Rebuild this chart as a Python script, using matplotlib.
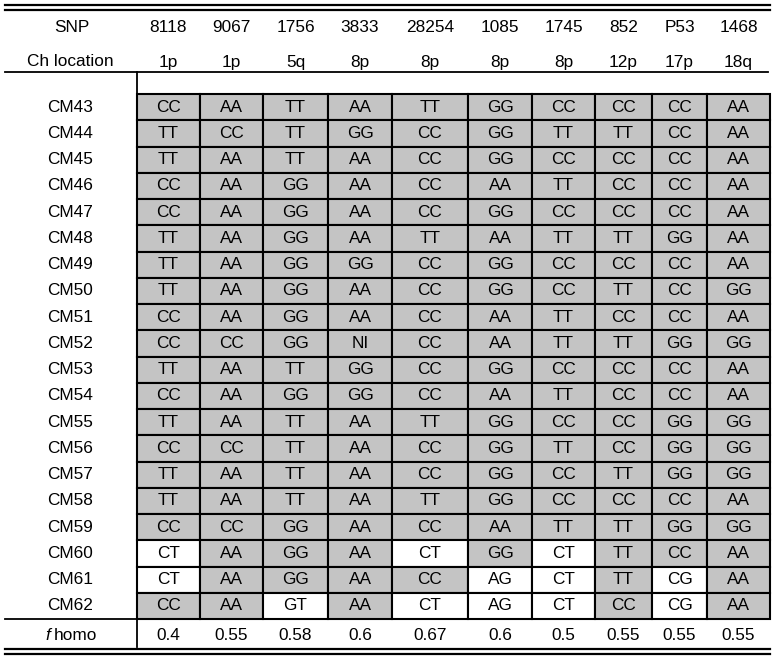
import matplotlib

matplotlib.use("Agg")
import matplotlib.pyplot as plt
from matplotlib.patches import Rectangle

plt.rcParams["font.family"] = ["Liberation Sans", "DejaVu Sans"]

SNPS = ["8118", "9067", "1756", "3833", "28254", "1085", "1745", "852", "P53", "1468"]
CH_LOCATION = ["1p", "1p", "5q", "8p", "8p", "8p", "8p", "12p", "17p", "18q"]
SAMPLES = [f"CM{n}" for n in range(43, 63)]
GENOTYPES = [
    ["CC", "AA", "TT", "AA", "TT", "GG", "CC", "CC", "CC", "AA"],
    ["TT", "CC", "TT", "GG", "CC", "GG", "TT", "TT", "CC", "AA"],
    ["TT", "AA", "TT", "AA", "CC", "GG", "CC", "CC", "CC", "AA"],
    ["CC", "AA", "GG", "AA", "CC", "AA", "TT", "CC", "CC", "AA"],
    ["CC", "AA", "GG", "AA", "CC", "GG", "CC", "CC", "CC", "AA"],
    ["TT", "AA", "GG", "AA", "TT", "AA", "TT", "TT", "GG", "AA"],
    ["TT", "AA", "GG", "GG", "CC", "GG", "CC", "CC", "CC", "AA"],
    ["TT", "AA", "GG", "AA", "CC", "GG", "CC", "TT", "CC", "GG"],
    ["CC", "AA", "GG", "AA", "CC", "AA", "TT", "CC", "CC", "AA"],
    ["CC", "CC", "GG", "NI", "CC", "AA", "TT", "TT", "GG", "GG"],
    ["TT", "AA", "TT", "GG", "CC", "GG", "CC", "CC", "CC", "AA"],
    ["CC", "AA", "GG", "GG", "CC", "AA", "TT", "CC", "CC", "AA"],
    ["TT", "AA", "TT", "AA", "TT", "GG", "CC", "CC", "GG", "GG"],
    ["CC", "CC", "TT", "AA", "CC", "GG", "TT", "CC", "GG", "GG"],
    ["TT", "AA", "TT", "AA", "CC", "GG", "CC", "TT", "GG", "GG"],
    ["TT", "AA", "TT", "AA", "TT", "GG", "CC", "CC", "CC", "AA"],
    ["CC", "CC", "GG", "AA", "CC", "AA", "TT", "TT", "GG", "GG"],
    ["CT", "AA", "GG", "AA", "CT", "GG", "CT", "TT", "CC", "AA"],
    ["CT", "AA", "GG", "AA", "CC", "AG", "CT", "TT", "CG", "AA"],
    ["CC", "AA", "GT", "AA", "CT", "AG", "CT", "CC", "CG", "AA"],
]
F_HOMO = ["0.4", "0.55", "0.58", "0.6", "0.67", "0.6", "0.5", "0.55", "0.55", "0.55"]

# layout in pixels (figure is drawn in pixel coordinates)
W, H = 774, 657
COL_EDGES = [137, 200, 263, 328, 392, 468, 532, 595, 652, 707, 770]
GRID_TOP, ROW_H = 94, 26.25
LABEL_X = 70
GRAY = "#c4c4c4"
FS = 12.4


def is_het(g):
    return g[0] in "ACGT" and g[1] in "ACGT" and g[0] != g[1]


fig = plt.figure(figsize=(W / 100, H / 100), dpi=100)
ax = fig.add_axes([0, 0, 1, 1])
ax.set_xlim(0, W)
ax.set_ylim(H, 0)
ax.axis("off")

centers = [(a + b) / 2 for a, b in zip(COL_EDGES[:-1], COL_EDGES[1:])]

# header rows
ax.text(LABEL_X + 2, 28, "SNP", ha="center", va="center", fontsize=FS)
ax.text(LABEL_X, 62, "Ch location", ha="center", va="center", fontsize=FS)
for cx, snp, loc in zip(centers, SNPS, CH_LOCATION):
    ax.text(cx, 28, snp, ha="center", va="center", fontsize=FS)
    ax.text(cx, 62, loc, ha="center", va="center", fontsize=FS)

# genotype grid
for i, (sample, row) in enumerate(zip(SAMPLES, GENOTYPES)):
    y0 = GRID_TOP + i * ROW_H
    ax.text(LABEL_X, y0 + ROW_H / 2, sample, ha="center", va="center", fontsize=FS)
    for j, g in enumerate(row):
        x0, x1 = COL_EDGES[j], COL_EDGES[j + 1]
        ax.add_patch(Rectangle((x0, y0), x1 - x0, ROW_H,
                               facecolor="white" if is_het(g) else GRAY,
                               edgecolor="black", linewidth=1.5))
        ax.text((x0 + x1) / 2, y0 + ROW_H / 2, g, ha="center", va="center", fontsize=FS)

grid_bottom = GRID_TOP + len(SAMPLES) * ROW_H

# f homo row
fy = grid_bottom + 17
ax.text(50, fy, "f", ha="right", va="center", fontsize=FS, style="italic")
ax.text(54, fy, "homo", ha="left", va="center", fontsize=FS)
for cx, v in zip(centers, F_HOMO):
    ax.text(cx, fy, v, ha="center", va="center", fontsize=FS)

# rules
ax.plot([5, 770], [5, 5], color="black", lw=1.6)
ax.plot([5, 770], [10, 10], color="black", lw=1.6)
ax.plot([5, 768], [72, 72], color="black", lw=1.3)
ax.plot([5, 770], [grid_bottom, grid_bottom], color="black", lw=1.3)
ax.plot([COL_EDGES[0], COL_EDGES[0]], [72, grid_bottom + 28], color="black", lw=1.3)
ax.plot([5, 770], [grid_bottom + 30, grid_bottom + 30], color="black", lw=1.6)
ax.plot([5, 770], [grid_bottom + 35, grid_bottom + 35], color="black", lw=1.6)

fig.savefig("out.png", dpi=100)
